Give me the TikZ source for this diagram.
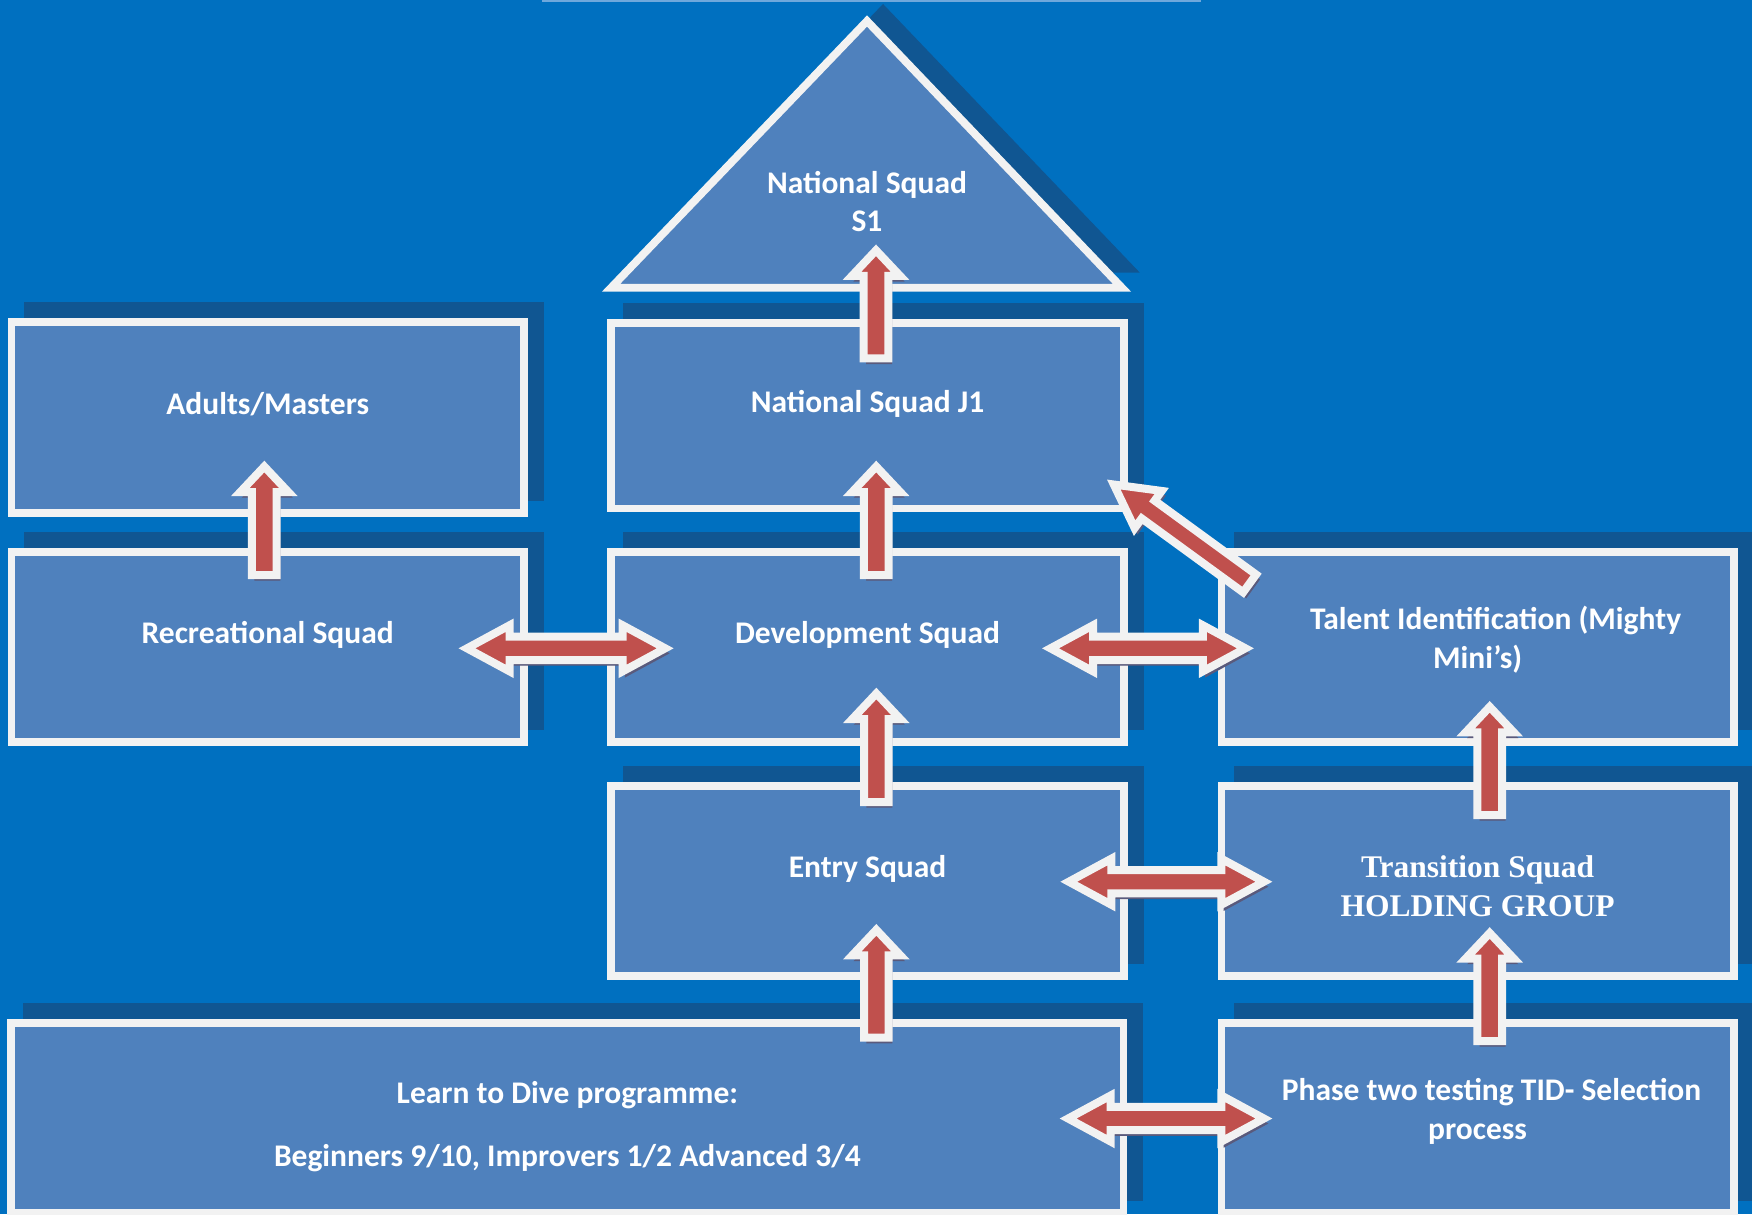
\documentclass[tikz,border=0pt]{standalone}
\usepackage{fontspec}
\setmainfont{Carlito}
\newfontfamily\holdfont{Liberation Serif}
\usepackage{tikz}
\usetikzlibrary{calc}

\definecolor{poolblue}{HTML}{0070C0}
\definecolor{squadfill}{HTML}{4F81BD}
\definecolor{squadline}{HTML}{F2F2F2}
\definecolor{squadshade}{RGB}{16,86,146}
\definecolor{liftred}{HTML}{C0504D}
\definecolor{liftshade}{HTML}{5A5A7C}
\definecolor{topedge}{HTML}{6FA8DC}

\tikzset{
  squadshape/.style={draw=squadline, fill=squadfill, line width=0.078cm, line join=miter,
    preaction={draw=squadshade, fill=squadshade,
      transform canvas={shift={(0.16cm,0.16cm)}}}},
  squadtext/.style={text=white, font=\fontsize{8.96}{10.93}\selectfont\bfseries,
    align=center, inner sep=0pt, text height=0pt, text depth=0.06cm},
  squad/.style={squadshape, squadtext, minimum width=5.12cm, minimum height=1.9cm},
  lastline/.style={text height=#1, text depth=0pt},
  lift/.style={draw=squadline, fill=liftred, line width=0.08cm, line join=miter,
    preaction={draw=liftshade, fill=liftshade,
      transform canvas={shift={(0.03cm,-0.05cm)}}}},
}

% block arrow: tail, tip, half shaft, half head, head length
\newcommand{\liftarrow}[5]{%
  \coordinate (hb) at ($(#2)!#5!(#1)$);
  \draw[lift] ($(#1)!#3!90:(#2)$) -- ($(hb)!#3!90:(#2)$) -- ($(hb)!#4!90:(#2)$)
    -- (#2) -- ($(hb)!#4!-90:(#2)$) -- ($(hb)!#3!-90:(#2)$)
    -- ($(#1)!#3!-90:(#2)$) -- cycle;}
% two-way block arrow: tip, tip
\newcommand{\swaparrow}[2]{%
  \coordinate (ha) at ($(#1)!0.425cm!(#2)$);
  \coordinate (hb) at ($(#2)!0.425cm!(#1)$);
  \draw[lift] (#1) -- ($(ha)!0.23cm!90:(#2)$) -- ($(ha)!0.117cm!90:(#2)$)
    -- ($(hb)!0.117cm!-90:(#1)$) -- ($(hb)!0.23cm!-90:(#1)$) -- (#2)
    -- ($(hb)!0.23cm!90:(#1)$) -- ($(hb)!0.117cm!90:(#1)$)
    -- ($(ha)!0.117cm!-90:(#2)$) -- ($(ha)!0.23cm!-90:(#2)$) -- cycle;}

\begin{document}
\begin{tikzpicture}[x=0.01cm, y=-0.01cm]
	\useasboundingbox (0,0) rectangle (1752,1214);
	\fill[poolblue] (0,0) rectangle (1752,1214);
	\fill[topedge] (542,0) rectangle (1201,1.5);
	%
	\draw[squadshape] (611,287.8) -- (867,21) -- (1122,287.8) -- cycle;
	\node[squadtext] (senior) at (867,234.7) {National Squad\\S1};
	%
	\node[squad, minimum height=1.906cm] (adults) at (267.7,417.5) {Adults/Masters};
	\node[squad] (recreational) at (267.7,646.7) {Recreational Squad};
	\node[squad, minimum height=1.855cm] (junior) at (867.5,415.7) {National Squad J1};
	\node[squad] (development) at (867.5,646.7) {Development Squad};
	\node[squad] (entry) at (867.5,880.8) {Entry Squad};
	\node[squad, minimum width=11.116cm, lastline=0.972cm] (learn) at (567.4,1118.1)
		{Learn to Dive programme:\\[7.1pt]Beginners 9/10, Improvers 1/2 Advanced 3/4};
	\node[squad, lastline=0.432cm] (talent) at (1477.6,646.7)
		{\hspace*{0.36cm}Talent Identification (Mighty\\Mini’s)};
	\node[squad, lastline=0.718cm, font=\holdfont\fontsize{8.96}{11.1}\selectfont\bfseries]
		(transition) at (1477.6,880.8) {Transition Squad\\HOLDING GROUP};
	\node[squad, lastline=0.418cm] (phase) at (1477.6,1118.1)
		{\hspace*{0.28cm}Phase two testing TID- Selection\\process};
	%
	\coordinate (recUp) at (264.3,575);      \coordinate (adultsIn) at (264.3,466.5);
	\coordinate (devUp) at (876.2,575);      \coordinate (juniorIn) at (876.2,466.5);
	\coordinate (juniorUp) at (876,358.3);   \coordinate (seniorIn) at (876,250.3);
	\coordinate (entryUp) at (876.3,802);    \coordinate (devIn) at (876.3,693.5);
	\coordinate (learnUp) at (876.3,1037.7); \coordinate (entryIn) at (876.3,929.8);
	\coordinate (transUp) at (1489.7,815);   \coordinate (talentIn) at (1489.7,706.8);
	\coordinate (phaseUp) at (1489.7,1041);  \coordinate (transIn) at (1489.7,933);
	\coordinate (talentOut) at (1249.6,583.4); \coordinate (juniorSide) at (1113.8,484.5);
	%
	\coordinate (recR) at (467,648.3);      \coordinate (devL) at (665.2,648.3);
	\coordinate (devR) at (1050.5,648.3);   \coordinate (talentL) at (1245.4,648.3);
	\coordinate (entryR) at (1068.8,881.7); \coordinate (transL) at (1263.9,881.7);
	\coordinate (learnR) at (1068.1,1118.5); \coordinate (phaseL) at (1263.9,1118.5);
	%
	\liftarrow{recUp}{adultsIn}{0.123cm}{0.24cm}{0.255cm}
	\liftarrow{devUp}{juniorIn}{0.123cm}{0.24cm}{0.255cm}
	\liftarrow{juniorUp}{seniorIn}{0.123cm}{0.24cm}{0.255cm}
	\liftarrow{entryUp}{devIn}{0.123cm}{0.24cm}{0.255cm}
	\liftarrow{learnUp}{entryIn}{0.123cm}{0.24cm}{0.255cm}
	\liftarrow{transUp}{talentIn}{0.123cm}{0.24cm}{0.255cm}
	\liftarrow{phaseUp}{transIn}{0.123cm}{0.24cm}{0.255cm}
	\liftarrow{talentOut}{juniorSide}{0.11cm}{0.23cm}{0.425cm}
	%
	\swaparrow{recR}{devL}
	\swaparrow{devR}{talentL}
	\swaparrow{entryR}{transL}
	\swaparrow{learnR}{phaseL}
\end{tikzpicture}
\end{document}
